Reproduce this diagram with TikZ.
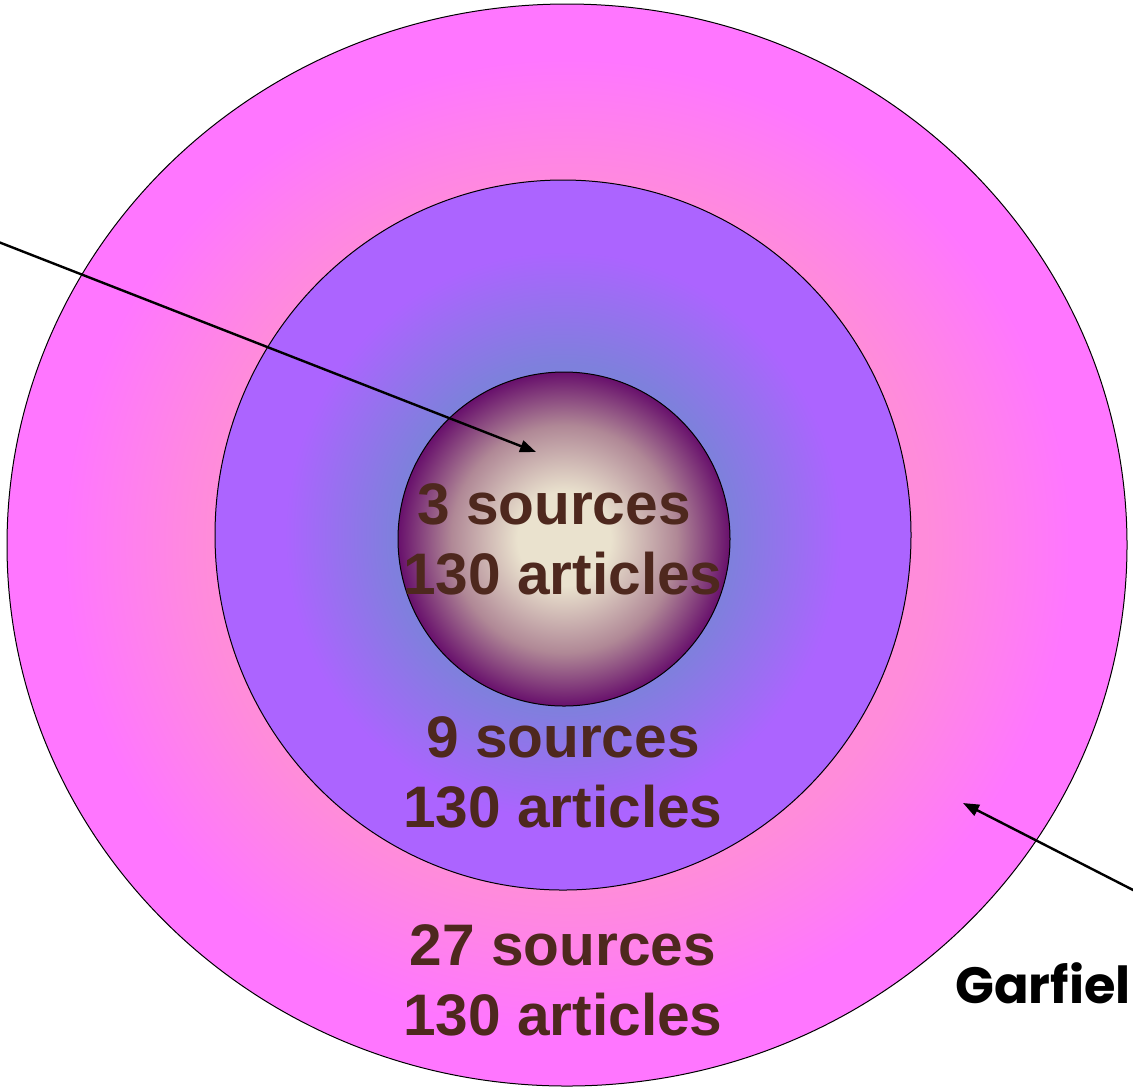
\documentclass[tikz,border=0pt]{standalone}
\usepackage{fontspec}
\setmainfont{Liberation Sans}
\newfontfamily\garfont{Poppins}
\usepackage{tikz}
\usetikzlibrary{
    arrows.meta
}
\usepackage{xcolor}

\definecolor{ringpink}{RGB}{255,140,218}
\definecolor{ringmagenta}{RGB}{255,118,255}
\definecolor{midblue}{RGB}{126,128,220}
\definecolor{midviolet}{RGB}{172,100,255}
\definecolor{corecream}{RGB}{234,226,206}
\definecolor{coremauve}{RGB}{176,136,150}
\definecolor{coreplum}{RGB}{104,16,108}
\definecolor{labelbrown}{RGB}{78,40,30}

\pgfdeclareradialshading{outerring}{\pgfpoint{0bp}{0bp}}{%
    color(0bp)=(ringpink); color(16bp)=(ringpink); color(22.5bp)=(ringmagenta); color(50bp)=(ringmagenta)}
\pgfdeclareradialshading{middisc}{\pgfpoint{0bp}{0bp}}{%
    color(0bp)=(midblue); color(12bp)=(midblue); color(20bp)=(midviolet); color(50bp)=(midviolet)}
\pgfdeclareradialshading{coredisc}{\pgfpoint{0bp}{0bp}}{%
    color(0bp)=(corecream); color(7bp)=(corecream); color(17bp)=(coremauve); color(25bp)=(coreplum); color(50bp)=(coreplum)}

\begin{document}
\begin{tikzpicture}[
        x=0.5pt, y=-0.5pt,
        disc/.style={
            draw=black,
            line width=0.5pt
        },
        count/.style={
            font=\bfseries\fontsize{29.3}{35}\selectfont,
            text=labelbrown,
            align=center,
            inner sep=0pt
        },
        pointer/.style={
            line width=1.2pt,
            -{Triangle[length=8pt,width=6pt]}
        }
    ]
    \useasboundingbox (0,0) rectangle (1133,1089);

    \path[disc, shading=outerring] (567,545) ellipse [x radius=280pt, y radius=270.5pt];
    \path[disc, shading=middisc] (563,535) ellipse [x radius=174pt, y radius=177.5pt];
    \path[disc, shading=coredisc] (564,539) ellipse [x radius=83pt, y radius=83.5pt];

    \node[count] (core) at (563,539) {3 sources\hspace*{9pt}\\130 articles};
    \node[count] (mid) at (563,772) {9 sources\\130 articles};
    \node[count] (outer) at (563,980) {27 sources\\130 articles};

    \node[anchor=base west, inner sep=0pt, font=\garfont\bfseries\fontsize{25.5}{30}\selectfont] (garfield) at (955,1003) {Garfiel};

    \coordinate (leftend) at (-4,241);
    \coordinate (coretip) at (536,452);
    \coordinate (rightend) at (1137,892);
    \coordinate (ringtip) at (963,803);

    \draw[pointer] (leftend) -- (coretip);
    \draw[pointer] (rightend) -- (ringtip);

\end{tikzpicture}
\end{document}
